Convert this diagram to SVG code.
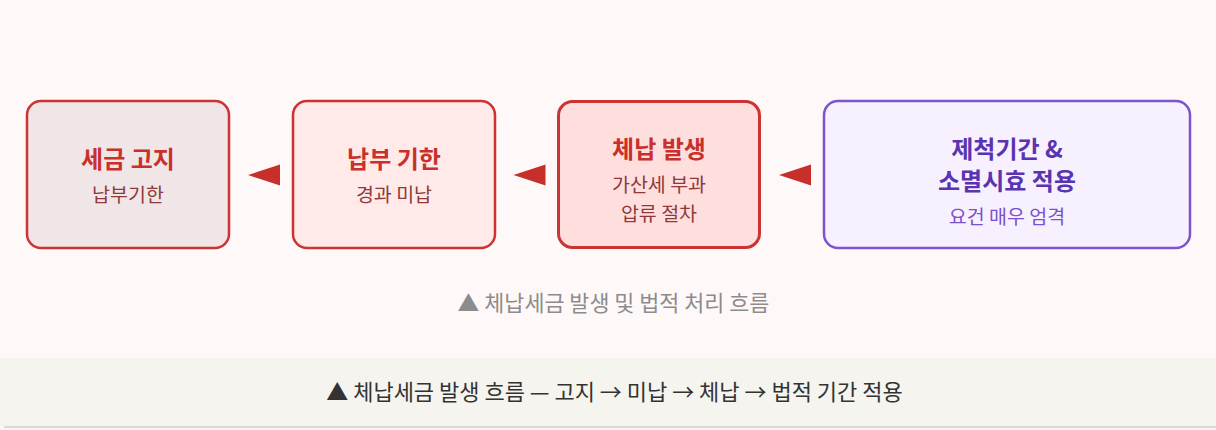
<svg xmlns="http://www.w3.org/2000/svg" width="1216" height="430" viewBox="0 0 1216 430">
  <style>
    text { font-family: "Noto Sans CJK KR", "Noto Sans", sans-serif; text-anchor: middle; }
    .box { stroke-width: 2.5; }
    .red { stroke: #cc3333; }
    .t-red { fill: #c9302c; font-size: 24px; font-weight: bold; }
    .s-red { fill: #8e3a3a; font-size: 19.5px; }
    .t-pur { fill: #5a34b0; font-size: 24px; font-weight: bold; }
    .s-pur { fill: #7a50cc; font-size: 19.5px; }
    .arrow { fill: #c62f2a; }
  </style>
  <rect x="0" y="0" width="1216" height="430" fill="#fff8f8"/>
  <g id="node-1">
    <rect class="box red" x="27" y="101" width="202" height="147" rx="14" fill="#f1e6e7"/>
    <text class="t-red" x="128" y="168">세금 고지</text>
    <text class="s-red" x="128" y="201.5">납부기한</text>
  </g>
  <g id="node-2">
    <rect class="box red" x="293" y="101" width="202" height="147" rx="14" fill="#ffe9e9"/>
    <text class="t-red" x="394" y="168">납부 기한</text>
    <text class="s-red" x="394" y="201.5">경과 미납</text>
  </g>
  <g id="node-3">
    <rect class="red" x="558.5" y="101.5" width="201" height="146" rx="14" fill="#ffdede" stroke-width="3"/>
    <text class="t-red" x="659" y="158">체납 발생</text>
    <text class="s-red" x="659" y="191.5">가산세 부과</text>
    <text class="s-red" x="659" y="220.5">압류 절차</text>
  </g>
  <g id="node-4">
    <rect class="box" x="824" y="101" width="366" height="147" rx="14" fill="#f7f0ff" stroke="#7b55cc"/>
    <text class="t-pur" x="1007" y="158">제척기간 &amp;</text>
    <text class="t-pur" x="1007" y="190">소멸시효 적용</text>
    <text class="s-pur" x="1007" y="223.5">요건 매우 엄격</text>
  </g>
  <g id="connectors">
    <polygon class="arrow" points="248,175 280,164.5 280,185.5"/>
    <polygon class="arrow" points="513.5,175 545.5,164.5 545.5,185.5"/>
    <polygon class="arrow" points="779,175 811,164.5 811,185.5"/>
  </g>
  <text x="613.5" y="310.5" fill="#8c8c8c" font-size="21.8">▲ 체납세금 발생 및 법적 처리 흐름</text>
  <g id="footer">
    <path d="M0,358 H1216 V427 H4 A4,4 0 0 1 0,423 Z" fill="#f5f4ee"/>
    <line x1="4" y1="427" x2="1216" y2="427" stroke="#cfcfcf" stroke-width="1.5"/>
    <text x="614.5" y="399.5" fill="#333333" font-size="22">▲ 체납세금 발생 흐름 — 고지 → 미납 → 체납 → 법적 기간 적용</text>
  </g>
</svg>
